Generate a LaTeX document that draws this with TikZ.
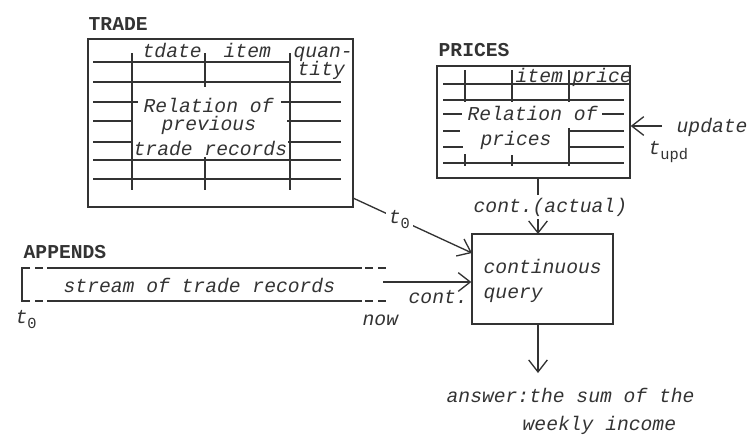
\documentclass[tikz,border=0pt]{standalone}
\usepackage{fontspec}
\setmonofont{Liberation Mono}
\usetikzlibrary{arrows.meta}
\begin{document}
\begin{tikzpicture}[
        x=0.75pt, y=-0.75pt,
        line width=1pt,
        color=black!80,
        font=\ttfamily\itshape\fontsize{14.75}{17}\selectfont
    ]
    \tikzset{
        tbox/.style = {draw, inner sep=0pt},
        lbl/.style = {inner sep=0pt, anchor=base west},
        ttl/.style = {inner sep=0pt, anchor=base west, font=\ttfamily\bfseries\fontsize{14.75}{17}\selectfont},
        arr/.style = {-{Straight Barb[length=9pt,width=14pt]}},
        gapline/.style = {dash pattern=on 6pt off 3.75pt},
    }
    \newcommand{\sub}[1]{\raisebox{-0.5ex}{\upshape\fontsize{11.5}{12}\selectfont #1}}
    \useasboundingbox (0,0) rectangle (749,437);
    %
    \node[ttl] at (88,30) (tradet) {TRADE};
    \node[tbox, minimum width=198.75pt, minimum height=126pt] at (220.5,123) (trade) {};
    \node[ttl] at (438,56) (pricest) {PRICES};
    \node[tbox, minimum width=144.75pt, minimum height=84pt] at (533.5,122) (prices) {};
    \node[ttl] at (23,258) (appendst) {APPENDS};
    \node[tbox, minimum width=105.75pt, minimum height=67.5pt] at (542.5,279) (query) {};
    %
    % rows and columns of TRADE
    \draw (93,62) -- (290,62);
    \draw (93,82) -- (341,82);
    \draw (93,102) -- (138,102) (281,102) -- (341,102);
    \draw (93,121) -- (132,121) (287,121) -- (341,121);
    \draw (93,142) -- (132,142) (288,142) -- (341,142);
    \draw (93,160) -- (341,160);
    \draw (93,179) -- (341,179);
    \draw (132,53) -- (132,190);
    \draw (205,53) -- (205,87) (205,157) -- (205,190);
    \draw (290,53) -- (290,190);
    \node[lbl] at (142,57) (tdate) {tdate};
    \node[lbl] at (223,57) (titem) {item};
    \node[lbl] at (293,57) (tquan) {quan-};
    \node[lbl] at (297,75) (ttity) {tity};
    \node[lbl] at (143,112) (trel1) {Relation of};
    \node[lbl] at (161,130) (trel2) {previous};
    \node[lbl] at (133,155) (trel3) {trade records};
    %
    % rows and columns of PRICES
    \draw (443,84) -- (629,84);
    \draw (443,100) -- (624,100);
    \draw (443,114) -- (462,114) (602,114) -- (624,114);
    \draw (443,131) -- (460,131) (568,131) -- (624,131);
    \draw (443,147) -- (463,147) (568,147) -- (624,147);
    \draw (443,163) -- (624,163);
    \draw (465,70) -- (465,102) (465,154) -- (465,166);
    \draw (512,70) -- (512,102) (512,155) -- (512,166);
    \draw (569,70) -- (569,102) (569,128) -- (569,166);
    \node[lbl] at (515,82) (pitem) {item};
    \node[lbl] at (572,82) (pprice) {price};
    \node[lbl] at (467,120) (prel1) {Relation of};
    \node[lbl] at (480,145) (prel2) {prices};
    %
    % stream of APPENDS
    \draw (30,268) -- (22,268) -- (22,301) -- (30,301);
    \draw (35,268) -- (43,268) (35,301) -- (43,301);
    \draw (47,268) -- (362,268) (47,301) -- (362,301);
    \draw[gapline] (365,268) -- (388,268) (365,301) -- (388,301);
    \node[lbl] at (63,292) (stream) {stream of trade records};
    \node[lbl] at (15,323) (tzero) {t\sub{0}};
    \node[lbl] at (362,325) (now) {now};
    %
    % query and answer
    \node[lbl] at (483,273) (cq1) {continuous};
    \node[lbl] at (483,298) (cq2) {query};
    \node[lbl] at (446,402) (ans1) {answer:the sum of the};
    \node[lbl] at (522,430) (ans2) {weekly income};
    %
    \coordinate (tout) at (353,198);
    \coordinate (qin1) at (472,253);
    \coordinate (sout) at (383,282);
    \coordinate (pout) at (538,178);
    \coordinate (qin2) at (538,234);
    \coordinate (qout) at (538,324);
    \coordinate (ansin) at (538,373);
    \coordinate (upd) at (662,126);
    %
    \draw (tout) edge[arr] node[pos=0.39, fill=white, inner sep=2.5pt] {t\sub{0}} (qin1);
    \draw (sout) edge[arr] (sout -| query.west);
    \draw (pout) edge[arr] (qin2);
    \draw (qout) edge[arr] (ansin);
    \draw (upd) edge[arr] (upd -| prices.east);
    \node[lbl, fill=white, inner ysep=2pt] at (473,212) (actual) {cont.(actual)};
    \node[lbl] at (408,303) (cont) {cont.};
    \node[lbl] at (676,132) (update) {update};
    \node[lbl] at (648,154) (tupd) {t\sub{upd}};
\end{tikzpicture}
\end{document}
